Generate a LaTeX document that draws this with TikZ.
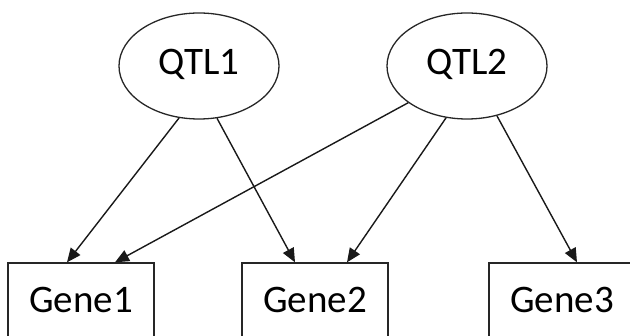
\documentclass[tikz,border=0pt]{standalone}
\usepackage{fontspec}
\setmainfont{Carlito}
\usetikzlibrary{shapes.geometric,arrows.meta}
\begin{document}
\begin{tikzpicture}[x=1pt,y=-1pt,
  qtl/.style={draw=black!85,line width=1.3pt,ellipse,inner sep=0pt,minimum width=160pt,minimum height=106pt,text depth=9pt,font=\fontsize{39}{41}\selectfont},
  gene/.style={draw=black!85,line width=1.3pt,rectangle,inner sep=0pt,minimum width=146pt,minimum height=76pt,text depth=2pt,font=\fontsize{39}{41}\selectfont},
  link/.style={line width=1.4pt,draw=black!90,-{Triangle[length=14pt,width=12pt]}}]
\useasboundingbox (0,0) rectangle (630,336);
\node[qtl] (q1) at (199,66) {QTL1};
\node[qtl] (q2) at (467,66) {QTL2};
\node[gene] (g1) at (81,301) {Gene1};
\node[gene] (g2) at (315,301) {Gene2};
\node[gene] (g3) at (562,301) {Gene3};
\draw[link] (q1.249) -- ([xshift=-14pt]g1.north);
\draw[link] (q1.289) -- ([xshift=-20pt]g2.north);
\draw[link] (q2.212) -- ([xshift=34pt]g1.north);
\draw[link] (q2.248) -- ([xshift=32pt]g2.north);
\draw[link] (q2.301) -- ([xshift=15pt]g3.north);
\end{tikzpicture}
\end{document}
